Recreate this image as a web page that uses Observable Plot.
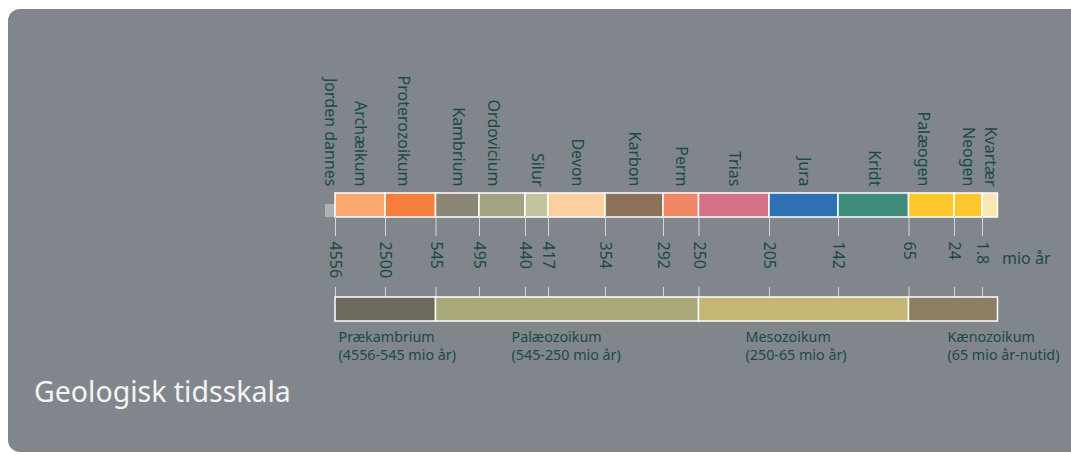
<!DOCTYPE html>
<html>
<head>
<meta charset="utf-8">
<script src="https://cdn.jsdelivr.net/npm/d3@7"></script>
<script src="https://cdn.jsdelivr.net/npm/@observablehq/plot@0.6"></script>
<style>
  html, body { margin: 0; padding: 0; background: #ffffff; }
  #wrap { position: relative; width: 1071px; height: 455px; overflow: hidden; background: #ffffff; font-family: "Noto Sans", "Open Sans", sans-serif; }
  #panel { position: absolute; left: 8px; top: 9px; width: 1100px; height: 443px; border-radius: 12px; background: #80868c; }
  #title { position: absolute; left: 34px; top: 377px; font-size: 28.5px; line-height: 1; color: #f4f4f4; white-space: nowrap; }
  #chart { position: absolute; left: 0; top: 0; }
</style>
</head>
<body>
<div id="wrap">
  <div id="panel"></div>
  <div id="chart"></div>
  <div id="title">Geologisk tidsskala</div>
</div>
<script>
// ---- data ----
const periodNames = ["Archæikum", "Proterozoikum", "Kambrium", "Ordovicium", "Silur", "Devon", "Karbon", "Perm", "Trias", "Jura", "Kridt", "Palæogen", "Neogen", "Kvartær"];
const periodStart = [4556, 2500, 545, 495, 440, 417, 354, 292, 250, 205, 142, 65, 24, 1.8];
const periodEnd   = [2500, 545, 495, 440, 417, 354, 292, 250, 205, 142, 65, 24, 1.8, 0];
const periodColors = ["#f9a86f", "#f57e3c", "#8a8575", "#a3a283", "#c3c3a0", "#fccf9f", "#8b7259", "#ef8767", "#d47186", "#2f6fb3", "#3f8b7c", "#fec62b", "#fdc52e", "#fbe6b4"];

const eraNames = ["Prækambrium", "Palæozoikum", "Mesozoikum", "Kænozoikum"];
const eraSpans = ["(4556-545 mio år)", "(545-250 mio år)", "(250-65 mio år)", "(65 mio år-nutid)"];
const eraStart = [4556, 545, 250, 65];
const eraEnd   = [545, 250, 65, 0];
const eraColors = ["#6b6a5b", "#a9a87a", "#c6b676", "#8c7e62"];

const tickValues = [4556, 2500, 545, 495, 440, 417, 354, 292, 250, 205, 142, 65, 24, 1.8];
const tickLabels = ["4556", "2500", "545", "495", "440", "417", "354", "292", "250", "205", "142", "65", "24", "1.8"];
const earthFormed = [4556];
const earthLabel = "Jorden dannes";
const unitLabel = "mio år";

// ---- tables built from the arrays ----
const periods = periodNames.map((name, i) => ({name, start: periodStart[i], end: periodEnd[i], row: "Periode"}));
const eras = eraNames.map((name, i) => ({name, span: eraSpans[i], start: eraStart[i], end: eraEnd[i], row: "Æra"}));

// ---- layout (not data) ----
const textColor = "#1c4a45";
const tickColor = "#d3d6d9";
const periodLabelDx = {"Proterozoikum": -8, "Ordovicium": -9, "Palæogen": -9};
const eraLabelDx = {"Prækambrium": 3, "Palæozoikum": 75.5, "Mesozoikum": 46.5, "Kænozoikum": 38.5};
const breaks = [4556, 2500, 545, 495, 440, 417, 354, 292, 250, 205, 142, 65, 24, 1.8, 0];

const mid = d => (d.start + d.end) / 2;

const plot = Plot.plot({
  width: 1071,
  height: 380,
  marginTop: 192,
  marginBottom: 164,
  marginLeft: 0,
  marginRight: 0,
  style: {background: "transparent", fontFamily: "'Noto Sans', 'Open Sans', sans-serif", overflow: "visible"},
  x: {type: "linear", domain: breaks, range: [335, 385, 435.5, 479, 525, 548, 605, 663, 698.5, 769, 838, 908.5, 954, 982, 997.5]},
  y: {type: "band", domain: ["Periode", "Æra"], range: [192, 321], paddingInner: 0.7714, paddingOuter: 0, axis: null},
  color: {type: "ordinal", domain: [...periodNames, ...eraNames], range: [...periodColors, ...eraColors]},
  marks: [
    // earth formation marker
    Plot.barX(earthFormed, {x1: d => d, x2: d => d, y: () => "Periode", insetLeft: -10, insetTop: 11, fill: "#aeb2b6"}),
    // period bar
    Plot.barX(periods, {x1: "start", x2: "end", y: "row", fill: "name", stroke: "#ffffff", strokeWidth: 1.5}),
    // period labels
    ...periods.map(p => Plot.text([p], {x: mid, y: "row", text: "name", rotate: 90, textAnchor: "end", dy: -19, dx: periodLabelDx[p.name] || 0, fontSize: 16, fill: textColor})),
    Plot.text(earthFormed, {x: d => d, y: () => "Periode", text: () => earthLabel, rotate: 90, textAnchor: "end", dy: -19, dx: -5, fontSize: 16, fill: textColor}),
    // axis between the bars
    Plot.axisX({anchor: "bottom", ticks: tickValues, tickFormat: d => tickLabels[tickValues.indexOf(d)], tickSize: 20, tickPadding: 5, tickRotate: 90, fontSize: 16, color: textColor, stroke: tickColor, label: null}),
    Plot.text([unitLabel], {x: () => 0, y: () => "Periode", text: d => d, textAnchor: "start", dx: 4, dy: 53, fontSize: 16, fill: textColor}),
    // short ticks above the era bar
    Plot.tickX(tickValues, {x: d => d, y: () => "Æra", insetTop: -10, stroke: tickColor}),
    // era bar
    Plot.barX(eras, {x1: "start", x2: "end", y: "row", fill: "name", stroke: "#ffffff", strokeWidth: 1.5}),
    // era labels
    ...eras.map(e => Plot.text([e], {x: "start", y: "row", text: d => d.name + "\n" + d.span, textAnchor: "start", lineAnchor: "top", lineHeight: 1.3, dy: 19, dx: eraLabelDx[e.name], fontSize: 14.3, fill: textColor}))
  ]
});
document.getElementById("chart").appendChild(plot);
</script>
</body>
</html>
